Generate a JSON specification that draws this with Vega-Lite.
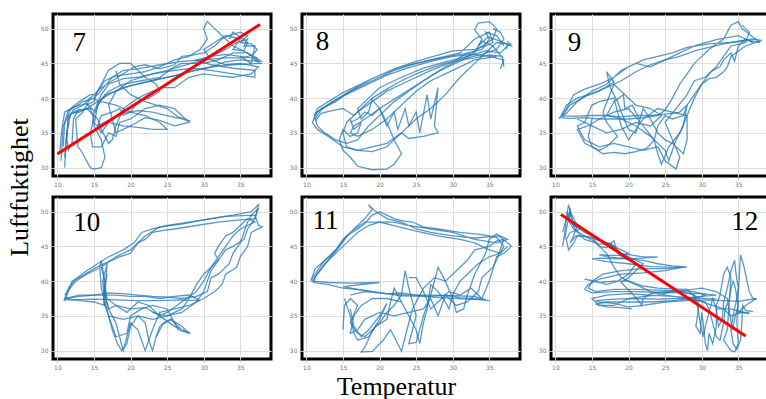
{
"$schema": "https://vega.github.io/schema/vega-lite/v6.json",
"padding": {"left": 4, "top": 12, "right": 0, "bottom": 0},
"background": "white",
"config": {
  "view": {"stroke": "black", "strokeWidth": 3},
  "axis": {"labelFontSize": 6, "labelColor": "#777777", "labelFont": "DejaVu Sans", "tickColor": "#bbbbbb", "tickSize": 3, "labelPadding": 2, "domain": false, "gridColor": "#dedede", "gridWidth": 1, "titleFont": "Liberation Serif", "titleFontWeight": "normal", "titleColor": "black"}
},
"datasets": {
"d7": [
{"s":"a","x":10.5,"y":31},{"s":"a","x":10.8,"y":36},{"s":"a","x":11.5,"y":37.5},{"s":"a","x":12.5,"y":38},{"s":"a","x":14,"y":38.5},{"s":"a","x":15.5,"y":39.5},{"s":"a","x":17,"y":40.5},{"s":"a","x":19,"y":41.5},{"s":"a","x":21,"y":42},{"s":"a","x":23,"y":42.5},{"s":"a","x":25,"y":43},{"s":"a","x":27,"y":43.5},{"s":"a","x":29,"y":44},{"s":"a","x":31,"y":44.5},{"s":"a","x":33,"y":45.2},{"s":"a","x":35,"y":45.5},{"s":"a","x":37.5,"y":45.3},{"s":"a","x":36,"y":46.5},{"s":"a","x":34,"y":47.5},{"s":"a","x":33,"y":48.5},{"s":"a","x":31,"y":50.5},{"s":"a","x":30.5,"y":51},{"s":"a","x":30,"y":50},{"s":"a","x":30.5,"y":48.5},{"s":"a","x":29.5,"y":47},{"s":"a","x":28,"y":46},{"s":"a","x":26,"y":45.5},{"s":"a","x":24,"y":44.5},{"s":"a","x":22,"y":43.8},{"s":"a","x":20,"y":43.5},{"s":"a","x":18,"y":43.2},{"s":"a","x":16.5,"y":42.5},{"s":"a","x":15.5,"y":41},{"s":"a","x":15,"y":39.5},{"s":"a","x":14,"y":39},
{"s":"b","x":11,"y":30},{"s":"b","x":11.2,"y":34},{"s":"b","x":11.5,"y":37},{"s":"b","x":12,"y":38},{"s":"b","x":13,"y":38.3},{"s":"b","x":14.5,"y":38.5},{"s":"b","x":15,"y":37},{"s":"b","x":14.5,"y":35},{"s":"b","x":14.8,"y":33},{"s":"b","x":16,"y":33},{"s":"b","x":17,"y":35},{"s":"b","x":18,"y":34.5},{"s":"b","x":18.5,"y":36.5},{"s":"b","x":20,"y":37},{"s":"b","x":22,"y":38.5},{"s":"b","x":24,"y":39},{"s":"b","x":26,"y":38.5},{"s":"b","x":28,"y":36.5},{"s":"b","x":26,"y":36},{"s":"b","x":24,"y":36.8},{"s":"b","x":22,"y":37.2},{"s":"b","x":20,"y":36},{"s":"b","x":18,"y":35},{"s":"b","x":17.5,"y":37},{"s":"b","x":17,"y":39},{"s":"b","x":18,"y":41},{"s":"b","x":20,"y":42.5},{"s":"b","x":23,"y":43.5},{"s":"b","x":26,"y":44},{"s":"b","x":28.5,"y":44.3},{"s":"b","x":31,"y":44},{"s":"b","x":34,"y":43.5},{"s":"b","x":37,"y":43},{"s":"b","x":37,"y":44},{"s":"b","x":34,"y":44.3},{"s":"b","x":31,"y":44.8},{"s":"b","x":29,"y":45.5},{"s":"b","x":31,"y":46},{"s":"b","x":33,"y":47},{"s":"b","x":34.5,"y":48},{"s":"b","x":36,"y":48.5},{"s":"b","x":35.5,"y":47.5},{"s":"b","x":37,"y":47.5},{"s":"b","x":36.5,"y":45},{"s":"b","x":35,"y":46},
{"s":"c","x":10.3,"y":32},{"s":"c","x":10.6,"y":35.5},{"s":"c","x":11,"y":38},{"s":"c","x":12,"y":38.5},{"s":"c","x":13.5,"y":39.5},{"s":"c","x":15,"y":40},{"s":"c","x":16,"y":42},{"s":"c","x":17,"y":44},{"s":"c","x":18.5,"y":45},{"s":"c","x":20,"y":45},{"s":"c","x":21,"y":44},{"s":"c","x":22,"y":43},{"s":"c","x":23.5,"y":42},{"s":"c","x":24,"y":41},{"s":"c","x":22.5,"y":40},{"s":"c","x":21,"y":39.5},{"s":"c","x":20,"y":38},{"s":"c","x":19,"y":37.5},{"s":"c","x":18.5,"y":38.5},{"s":"c","x":17.5,"y":38},{"s":"c","x":16,"y":37.5},{"s":"c","x":15.5,"y":36},{"s":"c","x":16,"y":35},{"s":"c","x":17,"y":36.5},{"s":"c","x":19,"y":36},{"s":"c","x":21,"y":35.8},{"s":"c","x":23,"y":35.5},{"s":"c","x":25,"y":35.5},{"s":"c","x":24,"y":36.5},{"s":"c","x":22,"y":37.5},{"s":"c","x":20,"y":38},{"s":"c","x":18,"y":39},{"s":"c","x":16,"y":39.5},{"s":"c","x":14.5,"y":40},{"s":"c","x":13.5,"y":38},{"s":"c","x":12.5,"y":37},{"s":"c","x":12.8,"y":33},{"s":"c","x":13.2,"y":32.5},{"s":"c","x":14.5,"y":30},{"s":"c","x":15,"y":29.8},{"s":"c","x":16,"y":30},{"s":"c","x":16.5,"y":31.5},{"s":"c","x":16,"y":34},{"s":"c","x":15,"y":36},{"s":"c","x":15.5,"y":39},{"s":"c","x":17,"y":41},{"s":"c","x":19,"y":42},{"s":"c","x":21.5,"y":42.5},{"s":"c","x":24,"y":43},{"s":"c","x":26,"y":44.5},{"s":"c","x":27,"y":45},{"s":"c","x":28,"y":45},{"s":"c","x":30,"y":45},{"s":"c","x":32,"y":45.5},{"s":"c","x":34,"y":46.5},{"s":"c","x":36,"y":46.5},{"s":"c","x":38,"y":45.2},{"s":"c","x":37,"y":46},
{"s":"d","x":11,"y":31.5},{"s":"d","x":11.3,"y":35},{"s":"d","x":11.8,"y":37.8},{"s":"d","x":13,"y":38},{"s":"d","x":14,"y":38.5},{"s":"d","x":15.5,"y":37},{"s":"d","x":16,"y":35.5},{"s":"d","x":17,"y":33.5},{"s":"d","x":17.5,"y":34},{"s":"d","x":18,"y":36},{"s":"d","x":19,"y":38.5},{"s":"d","x":21,"y":40},{"s":"d","x":23,"y":41},{"s":"d","x":24.5,"y":41.5},{"s":"d","x":26,"y":41.5},{"s":"d","x":28,"y":43},{"s":"d","x":30,"y":43.5},{"s":"d","x":32,"y":43.2},{"s":"d","x":34,"y":43},{"s":"d","x":36.5,"y":43.5},{"s":"d","x":37.5,"y":44.5},{"s":"d","x":35,"y":45},{"s":"d","x":33,"y":44.8},{"s":"d","x":31,"y":45.5},{"s":"d","x":30,"y":47},{"s":"d","x":31.5,"y":48},{"s":"d","x":33,"y":49},{"s":"d","x":35,"y":48.5},{"s":"d","x":34,"y":47},{"s":"d","x":35.5,"y":46.8},{"s":"d","x":36,"y":48},{"s":"d","x":34,"y":49.5},{"s":"d","x":33.5,"y":48.5},
{"s":"e","x":10.8,"y":33},{"s":"e","x":11,"y":36.5},{"s":"e","x":11.5,"y":38.3},{"s":"e","x":12.5,"y":38.8},{"s":"e","x":14,"y":39.2},{"s":"e","x":15.2,"y":38},{"s":"e","x":15.8,"y":39.5},{"s":"e","x":16.5,"y":40.5},{"s":"e","x":18,"y":41},{"s":"e","x":20,"y":41.8},{"s":"e","x":22,"y":42.3},{"s":"e","x":24,"y":42.8},{"s":"e","x":26,"y":43.2},{"s":"e","x":28,"y":43.8},{"s":"e","x":30,"y":44.3},{"s":"e","x":32,"y":44.6},{"s":"e","x":34,"y":44.8},{"s":"e","x":36,"y":44.9},{"s":"e","x":37.8,"y":45},{"s":"e","x":36.5,"y":45.8},{"s":"e","x":35,"y":46},{"s":"e","x":33,"y":46.3},{"s":"e","x":31,"y":46},{"s":"e","x":29,"y":45.2},{"s":"e","x":27,"y":44.6},{"s":"e","x":25,"y":44},{"s":"e","x":23,"y":43.5},{"s":"e","x":21,"y":43},{"s":"e","x":19,"y":42.8},{"s":"e","x":17,"y":42},{"s":"e","x":16,"y":40.5},{"s":"e","x":15,"y":38},{"s":"e","x":14.8,"y":36.5},{"s":"e","x":15.5,"y":36},{"s":"e","x":17,"y":36.8},{"s":"e","x":19,"y":37.8},{"s":"e","x":21,"y":38.2},{"s":"e","x":23,"y":38},{"s":"e","x":25,"y":37.5},{"s":"e","x":27,"y":37},{"s":"e","x":28.2,"y":36.7},{"s":"e","x":26.5,"y":37.3},{"s":"e","x":25,"y":38.5},{"s":"e","x":22,"y":39.5},{"s":"e","x":20,"y":40.5},{"s":"e","x":18.5,"y":42},{"s":"e","x":18,"y":44},
{"s":"f","x":12,"y":38.2},{"s":"f","x":13.5,"y":39},{"s":"f","x":15,"y":40.5},{"s":"f","x":16,"y":41.5},{"s":"f","x":17.5,"y":42.5},{"s":"f","x":19,"y":43.5},{"s":"f","x":20.5,"y":44.5},{"s":"f","x":22,"y":44.8},{"s":"f","x":24,"y":44.2},{"s":"f","x":26,"y":44.8},{"s":"f","x":27,"y":46},{"s":"f","x":28.5,"y":46.2},{"s":"f","x":30,"y":46.5},{"s":"f","x":31.5,"y":47.5},{"s":"f","x":32.5,"y":48.5},{"s":"f","x":33.5,"y":49},{"s":"f","x":35,"y":49.5},{"s":"f","x":36,"y":49},{"s":"f","x":35,"y":48},{"s":"f","x":36.5,"y":47.8},{"s":"f","x":37.3,"y":47},{"s":"f","x":36.8,"y":46.3},{"s":"f","x":35.5,"y":45.8},{"s":"f","x":33,"y":45.8},{"s":"f","x":30,"y":45.5},{"s":"f","x":27,"y":45.3},{"s":"f","x":24,"y":44.8},{"s":"f","x":21,"y":44.2},{"s":"f","x":19,"y":44},{"s":"f","x":17.5,"y":43},{"s":"f","x":16.3,"y":41.5},{"s":"f","x":15.5,"y":40.5},{"s":"f","x":14.5,"y":40.5},{"s":"f","x":13,"y":39.5},{"s":"f","x":12,"y":38.7},{"s":"f","x":11.5,"y":37.8},{"s":"f","x":11.3,"y":34},{"s":"f","x":11.5,"y":32.5},{"s":"f","x":12,"y":33.5},{"s":"f","x":12.2,"y":37},{"s":"f","x":13,"y":38.5}
],
"d8": [
{"s":"a","x":36.5,"y":44.2},{"s":"a","x":37,"y":45.5},{"s":"a","x":35,"y":46},{"s":"a","x":33,"y":46.3},{"s":"a","x":30,"y":46},{"s":"a","x":27,"y":45.3},{"s":"a","x":24,"y":44.4},{"s":"a","x":21,"y":43.3},{"s":"a","x":18,"y":41.8},{"s":"a","x":15,"y":40.3},{"s":"a","x":13,"y":39},{"s":"a","x":11.5,"y":38},{"s":"a","x":10.8,"y":36.5},{"s":"a","x":11.5,"y":35.5},{"s":"a","x":13,"y":34.5},{"s":"a","x":15,"y":33},{"s":"a","x":17,"y":32.5},{"s":"a","x":19,"y":32.3},{"s":"a","x":21,"y":33},{"s":"a","x":23,"y":35},{"s":"a","x":25,"y":37},{"s":"a","x":27,"y":38.5},{"s":"a","x":29,"y":40.5},{"s":"a","x":31,"y":43},{"s":"a","x":33,"y":45},{"s":"a","x":35,"y":47},{"s":"a","x":36,"y":48},{"s":"a","x":37.5,"y":47.8},{"s":"a","x":37.3,"y":47},
{"s":"b","x":11,"y":37.5},{"s":"b","x":12,"y":38.5},{"s":"b","x":14,"y":39.5},{"s":"b","x":16,"y":41},{"s":"b","x":19,"y":42.5},{"s":"b","x":22,"y":44},{"s":"b","x":25,"y":45},{"s":"b","x":28,"y":45.7},{"s":"b","x":31,"y":46.3},{"s":"b","x":33,"y":46.5},{"s":"b","x":34,"y":48.5},{"s":"b","x":33,"y":49.8},{"s":"b","x":33.5,"y":50.8},{"s":"b","x":35,"y":51},{"s":"b","x":36,"y":50},{"s":"b","x":35.5,"y":48.5},{"s":"b","x":34,"y":47.5},{"s":"b","x":32,"y":46},{"s":"b","x":29,"y":44.5},{"s":"b","x":26,"y":42.5},{"s":"b","x":23,"y":40.5},{"s":"b","x":20,"y":38.5},{"s":"b","x":18,"y":37},{"s":"b","x":16.5,"y":36},{"s":"b","x":16,"y":35},{"s":"b","x":17,"y":34.5},{"s":"b","x":19,"y":35.5},{"s":"b","x":21,"y":37},{"s":"b","x":23,"y":39},{"s":"b","x":25,"y":41},{"s":"b","x":27,"y":42.5},{"s":"b","x":30,"y":44},{"s":"b","x":33,"y":45.5},{"s":"b","x":36,"y":46},
{"s":"c","x":16,"y":36.5},{"s":"c","x":17,"y":37},{"s":"c","x":18,"y":38},{"s":"c","x":19,"y":37.5},{"s":"c","x":20,"y":38.5},{"s":"c","x":21,"y":36},{"s":"c","x":22,"y":38},{"s":"c","x":22.5,"y":35.5},{"s":"c","x":23.5,"y":38.5},{"s":"c","x":24,"y":36},{"s":"c","x":25,"y":38},{"s":"c","x":25.5,"y":35},{"s":"c","x":26.5,"y":40.5},{"s":"c","x":27,"y":37},{"s":"c","x":28,"y":41.5},{"s":"c","x":27.5,"y":36},{"s":"c","x":28,"y":35},{"s":"c","x":26,"y":34.5},{"s":"c","x":24,"y":34.2},{"s":"c","x":23,"y":35},{"s":"c","x":21,"y":33.5},{"s":"c","x":19,"y":33},{"s":"c","x":17,"y":32.5},{"s":"c","x":15.5,"y":33},{"s":"c","x":15,"y":35},{"s":"c","x":15.5,"y":36.5},{"s":"c","x":17,"y":38},{"s":"c","x":19,"y":39.5},{"s":"c","x":21,"y":41},{"s":"c","x":24,"y":42.5},{"s":"c","x":27,"y":44},{"s":"c","x":30,"y":45.2},{"s":"c","x":32,"y":46.5},{"s":"c","x":34,"y":47},{"s":"c","x":35,"y":48.5},{"s":"c","x":34.5,"y":49.5},{"s":"c","x":36,"y":49},{"s":"c","x":37,"y":47.5},
{"s":"d","x":16,"y":37},{"s":"d","x":16.5,"y":35.5},{"s":"d","x":17.5,"y":36.5},{"s":"d","x":17,"y":35},{"s":"d","x":16,"y":34.5},{"s":"d","x":15,"y":35.5},{"s":"d","x":14.5,"y":34},{"s":"d","x":15,"y":32.5},{"s":"d","x":16,"y":31.5},{"s":"d","x":17,"y":30.2},{"s":"d","x":19,"y":29.7},{"s":"d","x":21,"y":29.8},{"s":"d","x":22,"y":30.5},{"s":"d","x":23,"y":32},{"s":"d","x":22,"y":34},{"s":"d","x":21,"y":36.5},{"s":"d","x":20,"y":38.5},{"s":"d","x":19,"y":39.8},{"s":"d","x":18.5,"y":38},{"s":"d","x":17.5,"y":37},{"s":"d","x":17,"y":38.5},{"s":"d","x":18.5,"y":40},{"s":"d","x":20,"y":41.5},{"s":"d","x":23,"y":43},{"s":"d","x":26,"y":44.3},{"s":"d","x":29,"y":45.2},{"s":"d","x":32,"y":46},{"s":"d","x":34.5,"y":46.8},{"s":"d","x":36.5,"y":46.5},{"s":"d","x":37.5,"y":47.5},{"s":"d","x":38,"y":47.8},
{"s":"e","x":11,"y":37},{"s":"e","x":11.5,"y":38.5},{"s":"e","x":13,"y":39.5},{"s":"e","x":15,"y":40.8},{"s":"e","x":17,"y":41.8},{"s":"e","x":19,"y":42.8},{"s":"e","x":21,"y":43.7},{"s":"e","x":23,"y":44.5},{"s":"e","x":25,"y":45},{"s":"e","x":27,"y":45.5},{"s":"e","x":29,"y":46},{"s":"e","x":31,"y":46.5},{"s":"e","x":32,"y":47.5},{"s":"e","x":33,"y":48.5},{"s":"e","x":34,"y":49},{"s":"e","x":35,"y":49.5},{"s":"e","x":35.5,"y":48},{"s":"e","x":34.5,"y":47.5},{"s":"e","x":33,"y":47},{"s":"e","x":30,"y":46.8},{"s":"e","x":28,"y":46.2},{"s":"e","x":25,"y":45.3},{"s":"e","x":22,"y":44.2},{"s":"e","x":19,"y":42.8},{"s":"e","x":16,"y":41},{"s":"e","x":13.5,"y":39.5},{"s":"e","x":12,"y":38.3},{"s":"e","x":11.2,"y":37},{"s":"e","x":11.5,"y":36},{"s":"e","x":12.5,"y":35},{"s":"e","x":14,"y":34},{"s":"e","x":15.5,"y":33.5},{"s":"e","x":17,"y":34},{"s":"e","x":18.5,"y":36},{"s":"e","x":20,"y":37.5},{"s":"e","x":22,"y":39.5},{"s":"e","x":24,"y":41},{"s":"e","x":26,"y":42.5},{"s":"e","x":28,"y":43.8},{"s":"e","x":30,"y":44.8},{"s":"e","x":32,"y":45.8},{"s":"e","x":34,"y":46.3},{"s":"e","x":36,"y":47},{"s":"e","x":37,"y":48.5},{"s":"e","x":36.5,"y":49.5},{"s":"e","x":35.5,"y":50},
{"s":"f","x":11.3,"y":36.8},{"s":"f","x":12,"y":37.8},{"s":"f","x":13.5,"y":38.2},{"s":"f","x":15,"y":38.5},{"s":"f","x":16.5,"y":37.5},{"s":"f","x":17.5,"y":38.5},{"s":"f","x":19,"y":40},{"s":"f","x":21,"y":41.3},{"s":"f","x":23,"y":42.5},{"s":"f","x":25,"y":43.5},{"s":"f","x":27,"y":44.3},{"s":"f","x":29,"y":45},{"s":"f","x":31,"y":45.5},{"s":"f","x":33,"y":45.8},{"s":"f","x":35,"y":46.2},{"s":"f","x":36.8,"y":46},{"s":"f","x":37,"y":44.5},{"s":"f","x":36.8,"y":45.8},{"s":"f","x":35.5,"y":47.5},{"s":"f","x":34,"y":48.2},{"s":"f","x":33.5,"y":47.5},{"s":"f","x":34.8,"y":48.8},{"s":"f","x":36.5,"y":48.2},{"s":"f","x":38,"y":47.5},{"s":"f","x":37.5,"y":48.2}
],
"d9": [
{"s":"a","x":10.5,"y":37},{"s":"a","x":11.5,"y":38.5},{"s":"a","x":12.5,"y":40.5},{"s":"a","x":14,"y":41.3},{"s":"a","x":16,"y":42},{"s":"a","x":18,"y":43},{"s":"a","x":20,"y":44.5},{"s":"a","x":22,"y":45.5},{"s":"a","x":24,"y":46},{"s":"a","x":26,"y":46.5},{"s":"a","x":28,"y":47.3},{"s":"a","x":31,"y":47.8},{"s":"a","x":34,"y":48},{"s":"a","x":36.5,"y":48.3},{"s":"a","x":38,"y":48},{"s":"a","x":37,"y":48.8},{"s":"a","x":35.5,"y":50},{"s":"a","x":35,"y":51},{"s":"a","x":34,"y":50.5},{"s":"a","x":33,"y":48.5},{"s":"a","x":31,"y":47},{"s":"a","x":29,"y":45},{"s":"a","x":28,"y":43.5},{"s":"a","x":27,"y":42},{"s":"a","x":26,"y":40},{"s":"a","x":25,"y":38.3},{"s":"a","x":24,"y":37.5},{"s":"a","x":22,"y":37.2},{"s":"a","x":20,"y":37},{"s":"a","x":18,"y":37},{"s":"a","x":16,"y":37},{"s":"a","x":14,"y":37.2},{"s":"a","x":12,"y":37.1},{"s":"a","x":10.6,"y":37.2},{"s":"a","x":11.5,"y":37.8},{"s":"a","x":13,"y":39.5},{"s":"a","x":15,"y":41},{"s":"a","x":17,"y":42},{"s":"a","x":19,"y":44},{"s":"a","x":21,"y":45},{"s":"a","x":23,"y":44.5},{"s":"a","x":25,"y":45.5},{"s":"a","x":27,"y":46.5},{"s":"a","x":29,"y":47.5},{"s":"a","x":32,"y":48.4},{"s":"a","x":35,"y":49},{"s":"a","x":37,"y":48},
{"s":"b","x":11,"y":37.5},{"s":"b","x":12,"y":39},{"s":"b","x":14,"y":40.2},{"s":"b","x":16,"y":41},{"s":"b","x":18,"y":42.3},{"s":"b","x":17,"y":43.8},{"s":"b","x":17.5,"y":41.5},{"s":"b","x":18.5,"y":39.5},{"s":"b","x":19,"y":38},{"s":"b","x":20,"y":35.5},{"s":"b","x":21,"y":35},{"s":"b","x":22,"y":38.5},{"s":"b","x":23,"y":37},{"s":"b","x":24,"y":35},{"s":"b","x":25,"y":34},{"s":"b","x":26,"y":33.5},{"s":"b","x":27.5,"y":32},{"s":"b","x":28,"y":34},{"s":"b","x":28,"y":37.5},{"s":"b","x":26,"y":38},{"s":"b","x":24,"y":38.5},{"s":"b","x":22,"y":37},{"s":"b","x":20,"y":34},{"s":"b","x":19,"y":36},{"s":"b","x":18,"y":40},{"s":"b","x":16,"y":39.5},{"s":"b","x":15,"y":39},{"s":"b","x":14,"y":36.5},{"s":"b","x":13,"y":36},{"s":"b","x":14,"y":34},{"s":"b","x":16,"y":33},{"s":"b","x":18,"y":33.5},{"s":"b","x":20,"y":33},{"s":"b","x":22,"y":32.5},{"s":"b","x":24,"y":33},{"s":"b","x":25,"y":31},{"s":"b","x":26.5,"y":29.8},{"s":"b","x":27,"y":31.5},{"s":"b","x":26,"y":34},{"s":"b","x":25,"y":36.5},{"s":"b","x":26.5,"y":38.5},{"s":"b","x":28,"y":40.5},{"s":"b","x":29,"y":42.5},{"s":"b","x":30.5,"y":43},{"s":"b","x":31.5,"y":44},{"s":"b","x":32.5,"y":44.5},{"s":"b","x":33,"y":45.5},{"s":"b","x":34,"y":46.5},{"s":"b","x":34.5,"y":45.3},{"s":"b","x":35,"y":47.5},{"s":"b","x":36,"y":48.5},{"s":"b","x":37,"y":48},
{"s":"c","x":13,"y":37},{"s":"c","x":15,"y":36},{"s":"c","x":17,"y":35},{"s":"c","x":19,"y":35.5},{"s":"c","x":21,"y":36.5},{"s":"c","x":23,"y":36},{"s":"c","x":24.5,"y":37.5},{"s":"c","x":23,"y":38.5},{"s":"c","x":21,"y":39},{"s":"c","x":19,"y":41},{"s":"c","x":18,"y":42},{"s":"c","x":16.5,"y":38},{"s":"c","x":17,"y":36.5},{"s":"c","x":18.5,"y":34.5},{"s":"c","x":17,"y":33},{"s":"c","x":16,"y":32.5},{"s":"c","x":14,"y":33.5},{"s":"c","x":13,"y":35.5},{"s":"c","x":14.5,"y":36},{"s":"c","x":16,"y":37},{"s":"c","x":18,"y":38},{"s":"c","x":20,"y":38.5},{"s":"c","x":22,"y":36},{"s":"c","x":23.5,"y":34},{"s":"c","x":24,"y":32},{"s":"c","x":24.5,"y":30.5},{"s":"c","x":25.5,"y":33},{"s":"c","x":27,"y":35},{"s":"c","x":28,"y":37.5},{"s":"c","x":29,"y":40},{"s":"c","x":30,"y":42},{"s":"c","x":31,"y":43.5},{"s":"c","x":32,"y":44.5},{"s":"c","x":33,"y":46},{"s":"c","x":34,"y":47.5},{"s":"c","x":36,"y":48},{"s":"c","x":36.5,"y":49.5},{"s":"c","x":35.5,"y":50.5},
{"s":"e","x":10.8,"y":37.5},{"s":"e","x":11.5,"y":39},{"s":"e","x":13,"y":40},{"s":"e","x":15,"y":40.7},{"s":"e","x":17,"y":41.5},{"s":"e","x":19,"y":42.5},{"s":"e","x":21,"y":43.8},{"s":"e","x":23,"y":44.8},{"s":"e","x":25,"y":45.5},{"s":"e","x":27,"y":46},{"s":"e","x":29,"y":46.8},{"s":"e","x":31,"y":47.3},{"s":"e","x":33,"y":47.8},{"s":"e","x":35,"y":48.2},{"s":"e","x":37,"y":48.5},{"s":"e","x":38.2,"y":48.3},{"s":"e","x":36,"y":47.5},{"s":"e","x":34,"y":46},{"s":"e","x":33.5,"y":44.5},{"s":"e","x":33,"y":43.8},{"s":"e","x":32,"y":43},{"s":"e","x":31,"y":42.8},{"s":"e","x":30,"y":42},{"s":"e","x":29,"y":40.5},{"s":"e","x":28,"y":39},{"s":"e","x":27,"y":38},{"s":"e","x":25,"y":37.7},{"s":"e","x":23,"y":37.5},{"s":"e","x":21,"y":37.5},{"s":"e","x":19,"y":37.3},{"s":"e","x":17,"y":37.5},{"s":"e","x":15,"y":37.5},{"s":"e","x":13,"y":37.4},{"s":"e","x":11,"y":37.4},
{"s":"f","x":15,"y":37},{"s":"f","x":14.5,"y":34.5},{"s":"f","x":15,"y":33},{"s":"f","x":16.5,"y":32},{"s":"f","x":18,"y":32.2},{"s":"f","x":19.5,"y":32},{"s":"f","x":21,"y":32.3},{"s":"f","x":22.5,"y":32.8},{"s":"f","x":23.5,"y":34},{"s":"f","x":24,"y":36},{"s":"f","x":25,"y":37.5},{"s":"f","x":26,"y":37},{"s":"f","x":27.5,"y":37.5},{"s":"f","x":28,"y":39},{"s":"f","x":27.5,"y":36},{"s":"f","x":26.5,"y":34},{"s":"f","x":25.5,"y":31},{"s":"f","x":25,"y":32.5},{"s":"f","x":23,"y":34.5},{"s":"f","x":21,"y":36},{"s":"f","x":19,"y":37},{"s":"f","x":17,"y":37.5},{"s":"f","x":18,"y":39.5},{"s":"f","x":19.3,"y":40.5},{"s":"f","x":19.5,"y":38.5},{"s":"f","x":20.5,"y":39},{"s":"f","x":21.5,"y":37}
],
"d10": [
{"s":"a","x":10.8,"y":37.3},{"s":"a","x":12,"y":37.3},{"s":"a","x":15,"y":37.4},{"s":"a","x":18,"y":37.3},{"s":"a","x":21,"y":37.2},{"s":"a","x":24,"y":37.2},{"s":"a","x":27,"y":37.3},{"s":"a","x":29.5,"y":37.2},{"s":"a","x":28,"y":38},{"s":"a","x":26,"y":37.8},{"s":"a","x":24,"y":37.5},{"s":"a","x":22,"y":37.8},{"s":"a","x":20,"y":37.8},{"s":"a","x":18,"y":38},{"s":"a","x":16,"y":38},{"s":"a","x":13,"y":38},{"s":"a","x":11,"y":37.5},{"s":"a","x":11.5,"y":39},{"s":"a","x":12.5,"y":40.3},{"s":"a","x":14,"y":41.5},{"s":"a","x":15.5,"y":42.5},{"s":"a","x":17,"y":43.5},{"s":"a","x":19,"y":44.5},{"s":"a","x":20.5,"y":45.5},{"s":"a","x":21.5,"y":47},{"s":"a","x":23,"y":47.5},{"s":"a","x":25,"y":48},{"s":"a","x":28,"y":48.5},{"s":"a","x":31,"y":49},{"s":"a","x":34,"y":49.5},{"s":"a","x":36.5,"y":50},{"s":"a","x":37.5,"y":51},{"s":"a","x":37,"y":49},{"s":"a","x":36,"y":47.5},{"s":"a","x":35.5,"y":46},{"s":"a","x":34,"y":45},{"s":"a","x":33,"y":44.5},{"s":"a","x":32,"y":43},{"s":"a","x":31,"y":42},{"s":"a","x":30,"y":41},{"s":"a","x":29,"y":39.5},{"s":"a","x":28,"y":37.5},{"s":"a","x":27,"y":36},{"s":"a","x":25,"y":35},{"s":"a","x":23,"y":34.5},{"s":"a","x":21,"y":35},{"s":"a","x":19,"y":34.5},{"s":"a","x":17,"y":35},
{"s":"b","x":11,"y":38},{"s":"b","x":12.5,"y":40},{"s":"b","x":14,"y":41},{"s":"b","x":16,"y":42},{"s":"b","x":18,"y":43.5},{"s":"b","x":20,"y":44.5},{"s":"b","x":22,"y":46.5},{"s":"b","x":24,"y":47.8},{"s":"b","x":27,"y":48.2},{"s":"b","x":30,"y":48.8},{"s":"b","x":33,"y":49.3},{"s":"b","x":37,"y":49.5},{"s":"b","x":37.5,"y":48},{"s":"b","x":38,"y":47.8},{"s":"b","x":36.5,"y":47},{"s":"b","x":36,"y":45},{"s":"b","x":35,"y":43.5},{"s":"b","x":34.5,"y":42},{"s":"b","x":33,"y":41},{"s":"b","x":32.5,"y":39.5},{"s":"b","x":31.5,"y":38.5},{"s":"b","x":30,"y":37.5},{"s":"b","x":28,"y":36.5},{"s":"b","x":26,"y":36},{"s":"b","x":24,"y":35.5},{"s":"b","x":23,"y":33},{"s":"b","x":22,"y":30},{"s":"b","x":21,"y":33},{"s":"b","x":20,"y":34},{"s":"b","x":19,"y":30},{"s":"b","x":18.5,"y":32},{"s":"b","x":18,"y":34},{"s":"b","x":17,"y":36},{"s":"b","x":16.5,"y":38},{"s":"b","x":16.3,"y":41},{"s":"b","x":16,"y":43},{"s":"b","x":15.8,"y":42},{"s":"b","x":16,"y":39},{"s":"b","x":16.5,"y":37},{"s":"b","x":17,"y":35},{"s":"b","x":17.5,"y":33.5},{"s":"b","x":18,"y":32},{"s":"b","x":19.5,"y":32.5},{"s":"b","x":20,"y":35},{"s":"b","x":21.5,"y":36},{"s":"b","x":23,"y":36.5},{"s":"b","x":25,"y":36},{"s":"b","x":26,"y":34},{"s":"b","x":26.5,"y":33},{"s":"b","x":28,"y":32.5},{"s":"b","x":27,"y":33.5},{"s":"b","x":25.5,"y":34.5},{"s":"b","x":24,"y":33.5},{"s":"b","x":23.5,"y":32},
{"s":"c","x":11.2,"y":37.5},{"s":"c","x":13,"y":37.2},{"s":"c","x":15,"y":37},{"s":"c","x":16.5,"y":36.5},{"s":"c","x":16.2,"y":40},{"s":"c","x":16.8,"y":42.5},{"s":"c","x":16.5,"y":38},{"s":"c","x":17,"y":36},{"s":"c","x":18,"y":36.5},{"s":"c","x":19.5,"y":35.5},{"s":"c","x":21,"y":37},{"s":"c","x":22.5,"y":36.5},{"s":"c","x":24,"y":35},{"s":"c","x":25,"y":35.5},{"s":"c","x":27,"y":37},{"s":"c","x":29,"y":38.5},{"s":"c","x":30,"y":40},{"s":"c","x":31,"y":42},{"s":"c","x":32,"y":43.5},{"s":"c","x":33,"y":45},{"s":"c","x":34,"y":46.5},{"s":"c","x":35,"y":47.5},{"s":"c","x":36,"y":48},{"s":"c","x":37,"y":48.5},{"s":"c","x":36,"y":49},{"s":"c","x":35,"y":48},{"s":"c","x":34,"y":47},{"s":"c","x":33,"y":46.5},{"s":"c","x":32,"y":45},{"s":"c","x":31.5,"y":44},{"s":"c","x":32,"y":43},{"s":"c","x":31,"y":41.5},{"s":"c","x":30.5,"y":40},{"s":"c","x":30,"y":38.5},{"s":"c","x":29,"y":37},{"s":"c","x":27,"y":35.5},{"s":"c","x":25,"y":35},{"s":"c","x":23,"y":35.5},
{"s":"e","x":11,"y":37.2},{"s":"e","x":11.5,"y":38.5},{"s":"e","x":12,"y":40},{"s":"e","x":13.5,"y":40.8},{"s":"e","x":15,"y":41.8},{"s":"e","x":17,"y":42.8},{"s":"e","x":18.5,"y":43.5},{"s":"e","x":20,"y":44},{"s":"e","x":21,"y":45.5},{"s":"e","x":22,"y":46},{"s":"e","x":23,"y":47},{"s":"e","x":24.5,"y":47.3},{"s":"e","x":26,"y":47.5},{"s":"e","x":29,"y":48},{"s":"e","x":32,"y":48.5},{"s":"e","x":35,"y":48.8},{"s":"e","x":37,"y":49},{"s":"e","x":37.5,"y":50.5},{"s":"e","x":36.5,"y":49.5},{"s":"e","x":36,"y":48.5},{"s":"e","x":35.5,"y":47},{"s":"e","x":35,"y":45.5},{"s":"e","x":34,"y":44},{"s":"e","x":33.5,"y":42.5},{"s":"e","x":32,"y":41},{"s":"e","x":31,"y":40.5},{"s":"e","x":30.5,"y":38.5},{"s":"e","x":29,"y":37.8},{"s":"e","x":27,"y":37.5},{"s":"e","x":25,"y":37.7},{"s":"e","x":23,"y":37.8},{"s":"e","x":21,"y":38},{"s":"e","x":19,"y":38.2},{"s":"e","x":17,"y":38.3},{"s":"e","x":15,"y":38},{"s":"e","x":13,"y":37.8},{"s":"e","x":11,"y":37.5},
{"s":"f","x":16,"y":42},{"s":"f","x":16.5,"y":40},{"s":"f","x":16.3,"y":37},{"s":"f","x":17,"y":35},{"s":"f","x":17.5,"y":33},{"s":"f","x":18.2,"y":31},{"s":"f","x":18.8,"y":30},{"s":"f","x":19.5,"y":31},{"s":"f","x":20,"y":33.5},{"s":"f","x":21,"y":35},{"s":"f","x":22,"y":34},{"s":"f","x":22.5,"y":31.5},{"s":"f","x":23,"y":30},{"s":"f","x":23.5,"y":32},{"s":"f","x":24.5,"y":34},{"s":"f","x":25.5,"y":34.5},{"s":"f","x":27,"y":33},{"s":"f","x":28.2,"y":32.5},{"s":"f","x":26,"y":33.5},{"s":"f","x":24,"y":35},{"s":"f","x":22,"y":36.2},{"s":"f","x":20,"y":36},{"s":"f","x":18,"y":36.5},{"s":"f","x":16.8,"y":37.5},{"s":"f","x":16.5,"y":39.5},{"s":"f","x":16.8,"y":41}
],
"d11": [
{"s":"a","x":10.7,"y":40.2},{"s":"a","x":11.5,"y":41.5},{"s":"a","x":12.5,"y":43},{"s":"a","x":14,"y":44.5},{"s":"a","x":15,"y":46},{"s":"a","x":16.5,"y":47.5},{"s":"a","x":18,"y":49},{"s":"a","x":19,"y":50.3},{"s":"a","x":18.5,"y":51},{"s":"a","x":19.5,"y":50},{"s":"a","x":21,"y":49},{"s":"a","x":23,"y":48.5},{"s":"a","x":25,"y":47.5},{"s":"a","x":27,"y":47},{"s":"a","x":30,"y":46.5},{"s":"a","x":33,"y":46.2},{"s":"a","x":36.5,"y":46.5},{"s":"a","x":37.5,"y":46},{"s":"a","x":36,"y":45.5},{"s":"a","x":33,"y":46},{"s":"a","x":30,"y":47},{"s":"a","x":27,"y":47.5},{"s":"a","x":24,"y":48},{"s":"a","x":22,"y":48.5},{"s":"a","x":20,"y":48.5},{"s":"a","x":18,"y":48.5},{"s":"a","x":16,"y":47},{"s":"a","x":14.5,"y":45},{"s":"a","x":13,"y":43},{"s":"a","x":11.5,"y":41},{"s":"a","x":10.8,"y":40},{"s":"a","x":13,"y":39.8},{"s":"a","x":16,"y":39.7},{"s":"a","x":20,"y":39.8},{"s":"a","x":15,"y":39.2},{"s":"a","x":17,"y":38.8},{"s":"a","x":20,"y":38.3},{"s":"a","x":23,"y":37.9},{"s":"a","x":26,"y":37.8},{"s":"a","x":29,"y":37.6},{"s":"a","x":32,"y":37.4},{"s":"a","x":34.5,"y":37.3},{"s":"a","x":33,"y":37.8},{"s":"a","x":30,"y":37.9},{"s":"a","x":27,"y":38},{"s":"a","x":24,"y":38},{"s":"a","x":21,"y":38.2},{"s":"a","x":18,"y":38.5},{"s":"a","x":16,"y":38},
{"s":"b","x":15,"y":33},{"s":"b","x":15.2,"y":36.5},{"s":"b","x":16,"y":37.5},{"s":"b","x":17,"y":36.5},{"s":"b","x":16,"y":34},{"s":"b","x":17,"y":32.5},{"s":"b","x":18,"y":32},{"s":"b","x":20,"y":34},{"s":"b","x":21,"y":35.5},{"s":"b","x":22,"y":36.5},{"s":"b","x":23,"y":38},{"s":"b","x":23.5,"y":41.5},{"s":"b","x":24,"y":39},{"s":"b","x":25,"y":35},{"s":"b","x":24.5,"y":33},{"s":"b","x":24,"y":31},{"s":"b","x":25,"y":31.2},{"s":"b","x":26,"y":35},{"s":"b","x":27,"y":38},{"s":"b","x":28,"y":42},{"s":"b","x":29,"y":40},{"s":"b","x":30,"y":37.5},{"s":"b","x":30.5,"y":35.5},{"s":"b","x":31.5,"y":36},{"s":"b","x":32,"y":38},{"s":"b","x":33,"y":41},{"s":"b","x":34.5,"y":44},{"s":"b","x":35,"y":46},{"s":"b","x":36,"y":46.8},{"s":"b","x":37.5,"y":45.5},{"s":"b","x":38,"y":45},{"s":"b","x":37,"y":44},{"s":"b","x":36,"y":43.5},{"s":"b","x":35,"y":40},{"s":"b","x":34,"y":37.5},{"s":"b","x":32.5,"y":39},{"s":"b","x":31,"y":38},{"s":"b","x":29.5,"y":38.5},{"s":"b","x":28,"y":37},{"s":"b","x":27,"y":36},{"s":"b","x":26,"y":38.5},{"s":"b","x":25,"y":40.5},{"s":"b","x":24,"y":40.5},
{"s":"c","x":16,"y":36},{"s":"c","x":16.5,"y":33.5},{"s":"c","x":17.5,"y":32},{"s":"c","x":18.5,"y":33},{"s":"c","x":20,"y":35},{"s":"c","x":21,"y":36.8},{"s":"c","x":20,"y":34.5},{"s":"c","x":19,"y":32.8},{"s":"c","x":18,"y":30.5},{"s":"c","x":17.5,"y":29.8},{"s":"c","x":19,"y":29.9},{"s":"c","x":20.5,"y":31.5},{"s":"c","x":21.5,"y":33},{"s":"c","x":22,"y":32},{"s":"c","x":23,"y":29.9},{"s":"c","x":23.5,"y":32},{"s":"c","x":24.5,"y":36},{"s":"c","x":26,"y":39},{"s":"c","x":27.5,"y":40.5},{"s":"c","x":29,"y":40},{"s":"c","x":30,"y":41},{"s":"c","x":31,"y":42},{"s":"c","x":32,"y":43},{"s":"c","x":33,"y":44.5},{"s":"c","x":35,"y":45},{"s":"c","x":36,"y":45.8},{"s":"c","x":37,"y":46},{"s":"c","x":36,"y":43},{"s":"c","x":35.5,"y":42},{"s":"c","x":34,"y":40.5},{"s":"c","x":33.5,"y":38.5},{"s":"c","x":32,"y":37},{"s":"c","x":30.5,"y":36.5},{"s":"c","x":29,"y":38},{"s":"c","x":28,"y":35},{"s":"c","x":27,"y":37.5},{"s":"c","x":26,"y":36},{"s":"c","x":24,"y":35.5},{"s":"c","x":22,"y":35},{"s":"c","x":20,"y":35.5},{"s":"c","x":18,"y":34.5},{"s":"c","x":17,"y":33},{"s":"c","x":16,"y":32.5},{"s":"c","x":16.5,"y":35},{"s":"c","x":17.5,"y":36.5},{"s":"c","x":19,"y":37.5},{"s":"c","x":21,"y":37.5},{"s":"c","x":23,"y":37},
{"s":"e","x":10.6,"y":40},{"s":"e","x":11.2,"y":41.8},{"s":"e","x":12,"y":42.5},{"s":"e","x":13.5,"y":43.8},{"s":"e","x":14.5,"y":45},{"s":"e","x":15.5,"y":46.5},{"s":"e","x":17,"y":47.5},{"s":"e","x":18,"y":48.3},{"s":"e","x":19,"y":49.5},{"s":"e","x":20,"y":50},{"s":"e","x":21,"y":49.5},{"s":"e","x":22,"y":49},{"s":"e","x":23,"y":48.7},{"s":"e","x":24.5,"y":48.5},{"s":"e","x":26,"y":47.8},{"s":"e","x":28,"y":47.5},{"s":"e","x":31,"y":47},{"s":"e","x":34,"y":46.7},{"s":"e","x":36,"y":46.3},{"s":"e","x":37,"y":45},{"s":"e","x":36.5,"y":44},{"s":"e","x":35,"y":44.5},{"s":"e","x":33,"y":45.5},{"s":"e","x":31,"y":46},{"s":"e","x":28,"y":46.5},{"s":"e","x":25,"y":47.2},{"s":"e","x":22,"y":48},{"s":"e","x":20,"y":48.5},{"s":"e","x":18.5,"y":48},{"s":"e","x":17,"y":47},{"s":"e","x":15.5,"y":45.5},{"s":"e","x":14,"y":44},{"s":"e","x":12.5,"y":42.5},{"s":"e","x":11.3,"y":40.8},{"s":"e","x":11,"y":39.8},{"s":"e","x":13,"y":39.5},{"s":"e","x":15,"y":39},{"s":"e","x":17,"y":38.8},{"s":"e","x":19,"y":38.5},{"s":"e","x":21,"y":38.2},{"s":"e","x":23,"y":38.3},{"s":"e","x":25,"y":38},{"s":"e","x":27,"y":37.8},{"s":"e","x":29,"y":38},{"s":"e","x":31,"y":37.6},{"s":"e","x":33,"y":37.5},{"s":"e","x":35,"y":37.2},
{"s":"f","x":15.2,"y":37.5},{"s":"f","x":16,"y":35},{"s":"f","x":16.5,"y":32.5},{"s":"f","x":17,"y":31.5},{"s":"f","x":18.5,"y":32},{"s":"f","x":19.5,"y":33.5},{"s":"f","x":21,"y":34.5},{"s":"f","x":21.5,"y":37},{"s":"f","x":22,"y":39},{"s":"f","x":23,"y":37},{"s":"f","x":24,"y":35},{"s":"f","x":25,"y":33},{"s":"f","x":25.5,"y":31},{"s":"f","x":26,"y":34},{"s":"f","x":26.5,"y":36},{"s":"f","x":27,"y":39.5},{"s":"f","x":28,"y":38.5},{"s":"f","x":29,"y":37},{"s":"f","x":29.5,"y":36},{"s":"f","x":30,"y":38},{"s":"f","x":31,"y":40},{"s":"f","x":32,"y":41},{"s":"f","x":33.5,"y":42.5},{"s":"f","x":35,"y":43.5},{"s":"f","x":36.5,"y":44},{"s":"f","x":37.5,"y":45}
],
"d12": [
{"s":"a","x":11,"y":47},{"s":"a","x":11.5,"y":49},{"s":"a","x":11.8,"y":51},{"s":"a","x":12.2,"y":49.5},{"s":"a","x":12.5,"y":48},{"s":"a","x":13.5,"y":47.5},{"s":"a","x":12,"y":47},{"s":"a","x":11.5,"y":46},{"s":"a","x":11.8,"y":44.5},{"s":"a","x":12.5,"y":45.5},{"s":"a","x":13,"y":46.5},{"s":"a","x":15,"y":46.3},{"s":"a","x":16,"y":45},{"s":"a","x":17,"y":44.8},{"s":"a","x":18,"y":45.8},{"s":"a","x":18.5,"y":44},{"s":"a","x":20,"y":43.8},{"s":"a","x":22,"y":43.5},{"s":"a","x":24,"y":43.5},{"s":"a","x":22,"y":43.3},{"s":"a","x":19,"y":43.2},{"s":"a","x":16,"y":43.3},{"s":"a","x":15,"y":43.2},{"s":"a","x":17,"y":42.8},{"s":"a","x":20,"y":42.5},{"s":"a","x":23,"y":42.1},{"s":"a","x":26,"y":42},{"s":"a","x":27.5,"y":42},{"s":"a","x":25,"y":41.5},{"s":"a","x":22,"y":41.2},{"s":"a","x":19,"y":41},{"s":"a","x":16,"y":40.3},{"s":"a","x":14.5,"y":39.5},{"s":"a","x":14,"y":38.8},{"s":"a","x":15,"y":38.3},{"s":"a","x":18,"y":38.5},{"s":"a","x":21,"y":38.5},{"s":"a","x":24,"y":38.4},{"s":"a","x":27,"y":38.3},{"s":"a","x":30,"y":38.2},{"s":"a","x":32,"y":38},{"s":"a","x":30,"y":37.8},{"s":"a","x":27,"y":37.5},{"s":"a","x":24,"y":37.4},{"s":"a","x":21,"y":37.5},{"s":"a","x":18,"y":37.4},{"s":"a","x":15.5,"y":37.2},{"s":"a","x":16,"y":37},{"s":"a","x":18,"y":36.8},{"s":"a","x":20,"y":36.3},{"s":"a","x":22,"y":36.5},{"s":"a","x":25,"y":37},{"s":"a","x":28,"y":37.2},{"s":"a","x":31,"y":37.3},{"s":"a","x":33,"y":37.2},{"s":"a","x":35,"y":37.1},{"s":"a","x":37.5,"y":37.5},{"s":"a","x":36,"y":36.5},{"s":"a","x":35,"y":35.5},{"s":"a","x":36.5,"y":35.5},
{"s":"b","x":11.5,"y":50},{"s":"b","x":12,"y":48.5},{"s":"b","x":13,"y":47.8},{"s":"b","x":14,"y":47},{"s":"b","x":16,"y":46},{"s":"b","x":18,"y":45},{"s":"b","x":19,"y":43.5},{"s":"b","x":21,"y":42.5},{"s":"b","x":20,"y":41},{"s":"b","x":18.5,"y":40},{"s":"b","x":17,"y":39.5},{"s":"b","x":15.5,"y":40},{"s":"b","x":14,"y":40.3},{"s":"b","x":16,"y":39.8},{"s":"b","x":18,"y":40},{"s":"b","x":20,"y":40},{"s":"b","x":22,"y":39.3},{"s":"b","x":24,"y":39},{"s":"b","x":26,"y":38.9},{"s":"b","x":28,"y":38.8},{"s":"b","x":29,"y":37.8},{"s":"b","x":29.5,"y":37},{"s":"b","x":29.5,"y":35.5},{"s":"b","x":29.2,"y":33.5},{"s":"b","x":29.8,"y":32.5},{"s":"b","x":30,"y":35.5},{"s":"b","x":30.2,"y":34},{"s":"b","x":30.5,"y":31},{"s":"b","x":30.8,"y":30},{"s":"b","x":31,"y":32.5},{"s":"b","x":31.5,"y":31},{"s":"b","x":32,"y":33.5},{"s":"b","x":32,"y":36.5},{"s":"b","x":32.5,"y":38},{"s":"b","x":33,"y":41},{"s":"b","x":33.5,"y":42},{"s":"b","x":34,"y":40.5},{"s":"b","x":33.7,"y":36},{"s":"b","x":33.5,"y":33},{"s":"b","x":33,"y":31.5},{"s":"b","x":34,"y":30},{"s":"b","x":34.5,"y":29.8},{"s":"b","x":35,"y":31},{"s":"b","x":34.8,"y":34},{"s":"b","x":35,"y":38},{"s":"b","x":35.2,"y":42},{"s":"b","x":35.3,"y":43.8},{"s":"b","x":35.8,"y":42},{"s":"b","x":36.2,"y":40},{"s":"b","x":36.5,"y":38.5},{"s":"b","x":37,"y":37.5},{"s":"b","x":37.5,"y":37.3},
{"s":"c","x":11.3,"y":46},{"s":"c","x":11.6,"y":48},{"s":"c","x":12,"y":49.8},{"s":"c","x":12.3,"y":48.3},{"s":"c","x":13,"y":47},{"s":"c","x":14,"y":46},{"s":"c","x":15.5,"y":45.5},{"s":"c","x":17,"y":44},{"s":"c","x":18,"y":42},{"s":"c","x":19,"y":40.5},{"s":"c","x":21,"y":39.5},{"s":"c","x":23,"y":38.5},{"s":"c","x":25,"y":38},{"s":"c","x":28,"y":37.5},{"s":"c","x":30.5,"y":37},{"s":"c","x":31,"y":36},{"s":"c","x":31.5,"y":34},{"s":"c","x":32,"y":32},{"s":"c","x":32.5,"y":31.5},{"s":"c","x":33,"y":34},{"s":"c","x":33.2,"y":36},{"s":"c","x":33.8,"y":37.5},{"s":"c","x":34,"y":39},{"s":"c","x":34.3,"y":40},{"s":"c","x":34.6,"y":39},{"s":"c","x":35,"y":36.5},{"s":"c","x":34.6,"y":35},{"s":"c","x":34.2,"y":33},{"s":"c","x":33.8,"y":35.5},{"s":"c","x":33.5,"y":37.5},{"s":"c","x":32,"y":38.5},{"s":"c","x":30,"y":39},{"s":"c","x":28,"y":38.7},{"s":"c","x":26,"y":38.5},{"s":"c","x":24,"y":38},{"s":"c","x":22,"y":37.8},{"s":"c","x":20,"y":37.5},{"s":"c","x":18,"y":36.5},{"s":"c","x":16,"y":36.5},{"s":"c","x":15,"y":37.5},{"s":"c","x":17,"y":38},{"s":"c","x":20,"y":38.2},{"s":"c","x":23,"y":38},{"s":"c","x":26,"y":37.8},{"s":"c","x":29,"y":37.6},{"s":"c","x":32,"y":37.4},
{"s":"d","x":12,"y":50.5},{"s":"d","x":11.8,"y":48.7},{"s":"d","x":12.5,"y":47.5},{"s":"d","x":14,"y":46.5},{"s":"d","x":16,"y":45.3},{"s":"d","x":17.5,"y":45.5},{"s":"d","x":19,"y":44},{"s":"d","x":21,"y":43},{"s":"d","x":22,"y":42.5},{"s":"d","x":21,"y":41.5},{"s":"d","x":20,"y":40.5},{"s":"d","x":19,"y":39.8},{"s":"d","x":20.5,"y":38.2},{"s":"d","x":21.5,"y":37},{"s":"d","x":21.8,"y":36.5},{"s":"d","x":22,"y":37.5},{"s":"d","x":23,"y":38.2},{"s":"d","x":25,"y":38.5},{"s":"d","x":27,"y":38.6},{"s":"d","x":29,"y":38},{"s":"d","x":30,"y":37},{"s":"d","x":31.5,"y":36.5},{"s":"d","x":33,"y":36},{"s":"d","x":34,"y":35},{"s":"d","x":35.5,"y":35.5},{"s":"d","x":36.5,"y":35.3},{"s":"d","x":34,"y":36},{"s":"d","x":32,"y":36},
{"s":"e","x":11,"y":45},{"s":"e","x":11.3,"y":47},{"s":"e","x":11.5,"y":49},{"s":"e","x":12,"y":50},{"s":"e","x":12.5,"y":49},{"s":"e","x":13,"y":48},{"s":"e","x":12.5,"y":46.5},{"s":"e","x":12,"y":45.5},{"s":"e","x":12.8,"y":46.5},{"s":"e","x":14,"y":46.5},{"s":"e","x":15.5,"y":46},{"s":"e","x":17,"y":45.5},{"s":"e","x":18,"y":45},{"s":"e","x":19,"y":44.5},{"s":"e","x":20,"y":44},{"s":"e","x":19,"y":43.7},{"s":"e","x":17.5,"y":43.7},{"s":"e","x":16,"y":43.8},{"s":"e","x":17,"y":43.5},{"s":"e","x":20,"y":43.2},{"s":"e","x":22,"y":43},{"s":"e","x":24,"y":42.5},{"s":"e","x":26,"y":42.2},{"s":"e","x":28,"y":42},{"s":"e","x":25,"y":41.8},{"s":"e","x":22,"y":41.8},{"s":"e","x":19,"y":41.5},{"s":"e","x":16.5,"y":41},{"s":"e","x":15,"y":40},{"s":"e","x":14.5,"y":39},{"s":"e","x":15.5,"y":38.5},{"s":"e","x":18,"y":38.8},{"s":"e","x":21,"y":38.8},{"s":"e","x":24,"y":38.7},{"s":"e","x":27,"y":38.6},{"s":"e","x":29,"y":38.5},{"s":"e","x":30.5,"y":38},{"s":"e","x":29,"y":37.5},{"s":"e","x":26,"y":37.2},{"s":"e","x":23,"y":37},{"s":"e","x":20,"y":37},{"s":"e","x":17,"y":37},{"s":"e","x":15.5,"y":36.7},{"s":"e","x":17,"y":36.3},{"s":"e","x":19,"y":36.2},{"s":"e","x":20.5,"y":36},
{"s":"f","x":29,"y":38},{"s":"f","x":29.5,"y":36},{"s":"f","x":29.8,"y":34},{"s":"f","x":30.2,"y":32},{"s":"f","x":30.5,"y":33.5},{"s":"f","x":31,"y":35.5},{"s":"f","x":31.5,"y":37.5},{"s":"f","x":32,"y":36},{"s":"f","x":32.3,"y":33.5},{"s":"f","x":32.8,"y":34.5},{"s":"f","x":33,"y":37},{"s":"f","x":33.5,"y":39},{"s":"f","x":34,"y":41.5},{"s":"f","x":34.5,"y":43},{"s":"f","x":34.7,"y":41},{"s":"f","x":35,"y":39},{"s":"f","x":34.7,"y":37},{"s":"f","x":34.3,"y":35},{"s":"f","x":34,"y":33},{"s":"f","x":34.3,"y":31},{"s":"f","x":34.8,"y":30.2},{"s":"f","x":35.3,"y":31.5},{"s":"f","x":35.5,"y":34},{"s":"f","x":35.6,"y":36.5},{"s":"f","x":36,"y":35.8},{"s":"f","x":37,"y":35.6}
]
},
"columns": 3,
"bounds": "flush",
"spacing": {"row": 21, "column": 31},
"concat": [
{"width": 218, "height": 162, "layer": [
 {"data": {"name": "d7"}, "mark": {"type": "line", "stroke": "#2176b3", "strokeWidth": 1.3, "opacity": 0.75, "clip": true},
  "encoding": {"x": {"field": "x", "type": "quantitative", "scale": {"domain": [9.4, 39.2], "nice": false, "zero": false}, "axis": {"values": [10,15,20,25,30,35], "title": null}},
   "y": {"field": "y", "type": "quantitative", "scale": {"domain": [28.8, 52.1], "nice": false, "zero": false}, "axis": {"values": [30,35,40,45,50], "title": null}},
   "detail": {"field": "s"}, "order": {"value": null}}},
 {"data": {"values": [{}]}, "mark": {"type": "rule", "color": "#ff0000", "strokeWidth": 3}, "encoding": {"x": {"datum": 10}, "y": {"datum": 31.96}, "x2": {"datum": 37.7}, "y2": {"datum": 50.6}}},
 {"data": {"values": [{}]}, "mark": {"type": "text", "font": "Liberation Serif", "fontSize": 27, "baseline": "middle", "align": "center", "color": "black"}, "encoding": {"x": {"datum": 13}, "y": {"datum": 48}, "text": {"value": "7"}}}
]},
{"width": 218, "height": 162, "layer": [
 {"data": {"name": "d8"}, "mark": {"type": "line", "stroke": "#2176b3", "strokeWidth": 1.3, "opacity": 0.75, "clip": true},
  "encoding": {"x": {"field": "x", "type": "quantitative", "scale": {"domain": [9.4, 39.2], "nice": false, "zero": false}, "axis": {"values": [10,15,20,25,30,35], "title": null}},
   "y": {"field": "y", "type": "quantitative", "scale": {"domain": [28.8, 52.1], "nice": false, "zero": false}, "axis": {"values": [30,35,40,45,50], "title": null}},
   "detail": {"field": "s"}, "order": {"value": null}}},
 {"data": {"values": [{}]}, "mark": {"type": "text", "font": "Liberation Serif", "fontSize": 27, "baseline": "middle", "align": "center", "color": "black"}, "encoding": {"x": {"datum": 12.2}, "y": {"datum": 48.1}, "text": {"value": "8"}}}
]},
{"width": 218, "height": 162, "layer": [
 {"data": {"name": "d9"}, "mark": {"type": "line", "stroke": "#2176b3", "strokeWidth": 1.3, "opacity": 0.75, "clip": true},
  "encoding": {"x": {"field": "x", "type": "quantitative", "scale": {"domain": [9.4, 39.2], "nice": false, "zero": false}, "axis": {"values": [10,15,20,25,30,35], "title": null}},
   "y": {"field": "y", "type": "quantitative", "scale": {"domain": [28.8, 52.1], "nice": false, "zero": false}, "axis": {"values": [30,35,40,45,50], "title": null}},
   "detail": {"field": "s"}, "order": {"value": null}}},
 {"data": {"values": [{}]}, "mark": {"type": "text", "font": "Liberation Serif", "fontSize": 27, "baseline": "middle", "align": "center", "color": "black"}, "encoding": {"x": {"datum": 12.6}, "y": {"datum": 48}, "text": {"value": "9"}}}
]},
{"width": 218, "height": 162, "layer": [
 {"data": {"name": "d10"}, "mark": {"type": "line", "stroke": "#2176b3", "strokeWidth": 1.3, "opacity": 0.75, "clip": true},
  "encoding": {"x": {"field": "x", "type": "quantitative", "scale": {"domain": [9.4, 39.2], "nice": false, "zero": false}, "axis": {"values": [10,15,20,25,30,35], "title": null}},
   "y": {"field": "y", "type": "quantitative", "scale": {"domain": [28.8, 52.1], "nice": false, "zero": false}, "axis": {"values": [30,35,40,45,50], "title": "Luftfuktighet", "titleFontSize": 26, "titleY": -10, "titlePadding": 8}},
   "detail": {"field": "s"}, "order": {"value": null}}},
 {"data": {"values": [{}]}, "mark": {"type": "text", "font": "Liberation Serif", "fontSize": 27, "baseline": "middle", "align": "center", "color": "black"}, "encoding": {"x": {"datum": 14}, "y": {"datum": 48.4}, "text": {"value": "10"}}}
]},
{"width": 218, "height": 162, "layer": [
 {"data": {"name": "d11"}, "mark": {"type": "line", "stroke": "#2176b3", "strokeWidth": 1.3, "opacity": 0.75, "clip": true},
  "encoding": {"x": {"field": "x", "type": "quantitative", "scale": {"domain": [9.4, 39.2], "nice": false, "zero": false}, "axis": {"values": [10,15,20,25,30,35], "title": "Temperatur", "titleFontSize": 26, "titleX": 94, "titlePadding": 3}},
   "y": {"field": "y", "type": "quantitative", "scale": {"domain": [28.8, 52.1], "nice": false, "zero": false}, "axis": {"values": [30,35,40,45,50], "title": null}},
   "detail": {"field": "s"}, "order": {"value": null}}},
 {"data": {"values": [{}]}, "mark": {"type": "text", "font": "Liberation Serif", "fontSize": 27, "baseline": "middle", "align": "center", "color": "black"}, "encoding": {"x": {"datum": 12.6}, "y": {"datum": 48.7}, "text": {"value": "11"}}}
]},
{"width": 218, "height": 162, "layer": [
 {"data": {"name": "d12"}, "mark": {"type": "line", "stroke": "#2176b3", "strokeWidth": 1.3, "opacity": 0.75, "clip": true},
  "encoding": {"x": {"field": "x", "type": "quantitative", "scale": {"domain": [9.4, 39.2], "nice": false, "zero": false}, "axis": {"values": [10,15,20,25,30,35], "title": null}},
   "y": {"field": "y", "type": "quantitative", "scale": {"domain": [28.8, 52.1], "nice": false, "zero": false}, "axis": {"values": [30,35,40,45,50], "title": null}},
   "detail": {"field": "s"}, "order": {"value": null}}},
 {"data": {"values": [{}]}, "mark": {"type": "rule", "color": "#ff0000", "strokeWidth": 3}, "encoding": {"x": {"datum": 10.76}, "y": {"datum": 49.6}, "x2": {"datum": 36}, "y2": {"datum": 32.1}}},
 {"data": {"values": [{}]}, "mark": {"type": "text", "font": "Liberation Serif", "fontSize": 27, "baseline": "middle", "align": "center", "color": "black"}, "encoding": {"x": {"datum": 35.9}, "y": {"datum": 48.5}, "text": {"value": "12"}}}
]}
]
}
